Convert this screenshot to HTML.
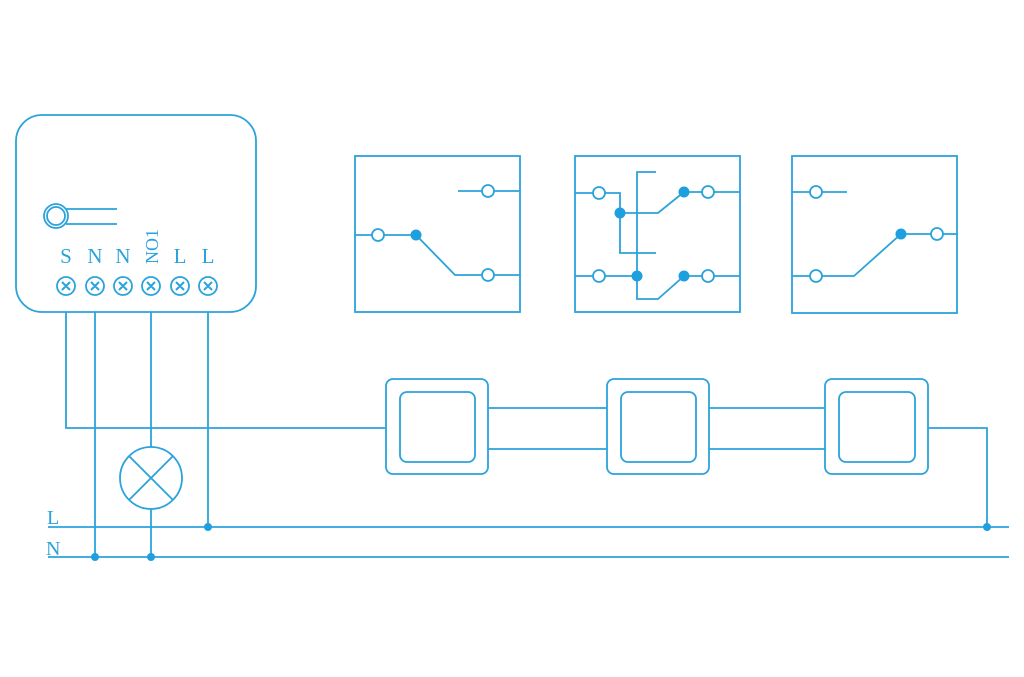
<!DOCTYPE html>
<html><head><style>html,body{margin:0;padding:0;background:#fff;width:1024px;height:677px;overflow:hidden}</style></head>
<body>
<svg width="1024" height="677" viewBox="0 0 1024 677" xmlns="http://www.w3.org/2000/svg">
<g stroke="#2aa3dc" stroke-width="1.8" fill="none">
<rect x="16" y="115" width="240" height="197" rx="26"/>
<circle cx="56" cy="216" r="12"/><circle cx="56" cy="216" r="9"/>
<line x1="66" y1="209" x2="117" y2="209"/><line x1="66" y1="224" x2="117" y2="224"/>
<g>
<circle cx="66" cy="286" r="9"/><circle cx="95" cy="286" r="9"/><circle cx="123" cy="286" r="9"/><circle cx="151" cy="286" r="9"/><circle cx="180" cy="286" r="9"/><circle cx="208" cy="286" r="9"/>
</g>
<g stroke-width="2">
<path d="M62 282l8 8M70 282l-8 8M91 282l8 8M99 282l-8 8M119 282l8 8M127 282l-8 8M147 282l8 8M155 282l-8 8M176 282l8 8M184 282l-8 8M204 282l8 8M212 282l-8 8"/>
</g>
<polyline points="66,312 66,428 386,428"/>
<line x1="95" y1="312" x2="95" y2="557"/>
<line x1="151" y1="312" x2="151" y2="447"/>
<line x1="151" y1="509" x2="151" y2="557"/>
<line x1="208" y1="312" x2="208" y2="527"/>
<circle cx="151" cy="478" r="31"/>
<path d="M129 456L173 500M173 456L129 500"/>
<line x1="48" y1="527" x2="1009" y2="527"/>
<line x1="48" y1="557" x2="1009" y2="557"/>
<polyline points="928,428 987,428 987,527"/>
<rect x="386" y="379" width="102" height="95" rx="7"/><rect x="400" y="392" width="75" height="70" rx="7"/>
<rect x="607" y="379" width="102" height="95" rx="7"/><rect x="621" y="392" width="75" height="70" rx="7"/>
<rect x="825" y="379" width="103" height="95" rx="7"/><rect x="839" y="392" width="76" height="70" rx="7"/>
<line x1="488" y1="408" x2="607" y2="408"/><line x1="488" y1="449" x2="607" y2="449"/>
<line x1="709" y1="408" x2="825" y2="408"/><line x1="709" y1="449" x2="825" y2="449"/>
<rect x="355" y="156" width="165" height="156"/>
<line x1="355" y1="235" x2="372" y2="235"/><line x1="384" y1="235" x2="416" y2="235"/>
<polyline points="416,235 455,275 482,275"/><line x1="494" y1="275" x2="520" y2="275"/>
<line x1="458" y1="191" x2="482" y2="191"/><line x1="494" y1="191" x2="520" y2="191"/>
<circle cx="378" cy="235" r="6"/><circle cx="488" cy="275" r="6"/><circle cx="488" cy="191" r="6"/>
<rect x="575" y="156" width="165" height="156"/>
<line x1="575" y1="193" x2="593" y2="193"/><polyline points="605,193 620,193 620,253 656,253"/>
<polyline points="620,213 658,213 684,192"/>
<polyline points="656,172 637,172 637,299 658,299 684,276"/>
<line x1="575" y1="276" x2="593" y2="276"/><line x1="605" y1="276" x2="637" y2="276"/>
<line x1="684" y1="192" x2="702" y2="192"/><line x1="714" y1="192" x2="740" y2="192"/>
<line x1="684" y1="276" x2="702" y2="276"/><line x1="714" y1="276" x2="740" y2="276"/>
<circle cx="599" cy="193" r="6"/><circle cx="599" cy="276" r="6"/><circle cx="708" cy="192" r="6"/><circle cx="708" cy="276" r="6"/>
<rect x="792" y="156" width="165" height="157"/>
<line x1="792" y1="192" x2="810" y2="192"/><line x1="822" y1="192" x2="847" y2="192"/>
<line x1="792" y1="276" x2="810" y2="276"/><polyline points="822,276 854,276 901,234"/>
<line x1="901" y1="234" x2="931" y2="234"/><line x1="943" y1="234" x2="957" y2="234"/>
<circle cx="816" cy="192" r="6"/><circle cx="816" cy="276" r="6"/><circle cx="937" cy="234" r="6"/>
</g>
<g fill="#1fa0de">
<circle cx="416" cy="235" r="5.5"/>
<circle cx="620" cy="213" r="5.5"/><circle cx="637" cy="276" r="5.5"/><circle cx="684" cy="192" r="5.5"/><circle cx="684" cy="276" r="5.5"/>
<circle cx="901" cy="234" r="5.5"/>
<circle cx="95" cy="557" r="4"/><circle cx="151" cy="557" r="4"/><circle cx="208" cy="527" r="4"/><circle cx="987" cy="527" r="4"/>
</g>
<g fill="#2aa3dc" font-family="Liberation Serif, serif" font-size="21">
<text x="66" y="263" text-anchor="middle">S</text>
<text x="95" y="263" text-anchor="middle">N</text>
<text x="123" y="263" text-anchor="middle">N</text>
<text x="180" y="263" text-anchor="middle">L</text>
<text x="208" y="263" text-anchor="middle">L</text>
<text x="0" y="0" font-size="18" transform="translate(158,264) rotate(-90)">NO1</text>
<text x="47" y="524" font-size="20">L</text>
<text x="46" y="555" font-size="20">N</text>
</g>
</svg>
</body></html>
